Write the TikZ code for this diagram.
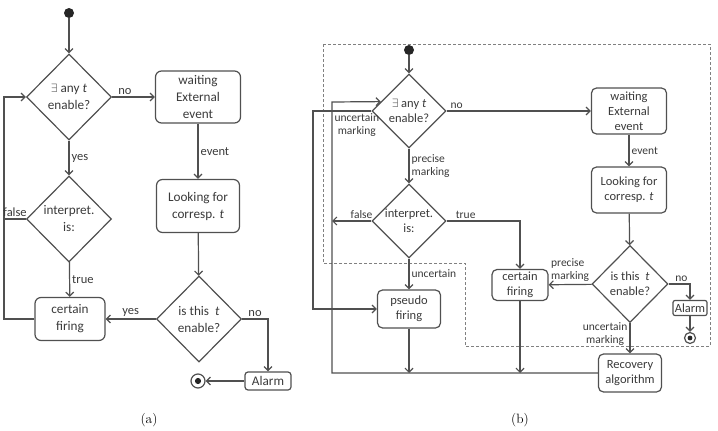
\documentclass[tikz,border=0pt]{standalone}
\usepackage{fontspec}
\setsansfont{Carlito}
\usetikzlibrary{shapes.geometric,arrows.meta,calc}
\definecolor{linecol}{HTML}{505050}
\definecolor{textcol}{HTML}{3A3A3A}
\definecolor{framecol}{HTML}{808080}
\tikzset{
  flow/.style={draw=linecol, line width=1.2pt},
  arr/.style={flow, -{Straight Barb[length=4pt,width=8pt]}},
  fa/.style={font=\sffamily\fontsize{13.2}{17}\selectfont, text=textcol},
  fb/.style={font=\sffamily\fontsize{12.5}{15}\selectfont, text=textcol},
  lbla/.style={font=\sffamily\fontsize{12.5}{15}\selectfont, text=textcol, inner sep=2pt},
  lblb/.style={font=\sffamily\fontsize{11.5}{13}\selectfont, text=textcol, inner sep=2pt},
  boxa/.style={flow, fa, rounded corners=6pt, align=center, inner sep=1pt},
  boxb/.style={flow, fb, rounded corners=5pt, align=center, inner sep=1pt},
  deca/.style={flow, fa, diamond, align=center, inner sep=-6pt, minimum width=85pt, minimum height=86pt},
  decb/.style={flow, fb, diamond, align=center, inner sep=-6pt, minimum width=74pt, minimum height=74pt},
  startdot/.style={circle, fill=black!85, inner sep=0pt, minimum size=#1},
  enddot/.style={circle, flow, inner sep=0pt, minimum size=#1,
    path picture={\fill[black!85] (path picture bounding box.center) circle (0.22*#1);}},
  frame/.style={draw=framecol, line width=1pt, dash pattern=on 3pt off 2pt},
  capt/.style={font=\fontsize{13.5}{15}\selectfont}
}
\begin{document}
\begin{tikzpicture}[x=1pt, y=-1pt]
    \useasboundingbox (0,0) rectangle (718,431);
    % (a) nodes
    \node[startdot=10pt] (a0) at (69,13) {};
    \node[deca] (ad1) at (69,97) {$\exists$ any \textit{t}\\enable?};
    \node[deca] (ad2) at (69,219) {interpret.\\is:};
    \node[boxa, minimum width=70pt, minimum height=43pt] (ac) at (70,319) {certain\\firing};
    \node[boxa, minimum width=85pt, minimum height=52pt] (aw) at (198,97) {waiting\\External\\event};
    \node[boxa, minimum width=83pt, minimum height=53pt] (al) at (198,206) {Looking for\\corresp. \textit{t}};
    \node[deca] (ad3) at (199,319) {is this \ \textit{t}\\enable?};
    \node[boxa, rounded corners=3pt, minimum width=46pt, minimum height=18pt, inner sep=0pt] (aa) at (268,381) {Alarm};
    \node[enddot=14pt] (ae) at (198,381) {};
    \coordinate (aloop) at (4,97);
    % (a) connectors
    \draw[arr] (a0) -- (ad1);
    \draw[arr] (ad1) -- node[lbla, above, pos=0.3] {no} (aw);
    \draw[arr] (aw) -- node[lbla, right] {event} (al);
    \draw[arr] (al) -- (ad3);
    \draw[arr] (ad3) -- node[lbla, above] {yes} (ac);
    \draw[arr] (ad3.east) -| node[lbla, above, pos=0.25] {no} (aa);
    \draw[arr] (aa) -- (ae);
    \draw[arr] (ad1) -- node[lbla, right] {yes} (ad2);
    \draw[arr] (ad2) -- node[lbla, right] {true} (ac);
    \draw[arr] (ac.west) -| (aloop) -- (ad1.west);
    \draw[flow] (ad2.west) -- node[lbla, above] {false} (ad2.west -| aloop);
    \node[capt] (capa) at (149,420) {(a)};
    % (b) frame
    \draw[frame] (323,44) -- (710,44) -- (710,346) -- (465,346) -- (465,263) -- (323,263) -- cycle;
    % (b) nodes
    \node[startdot=10pt] (b0) at (409,50) {};
    \node[decb] (bd1) at (409,111) {$\exists$ any \textit{t}\\enable?};
    \node[decb] (bd2) at (409,221) {interpret.\\is:};
    \node[boxb, minimum width=63pt, minimum height=38pt] (bp) at (409,309) {pseudo\\firing};
    \node[boxb, minimum width=56pt, minimum height=31pt] (bc) at (520,285) {certain\\firing};
    \node[boxb, minimum width=75pt, minimum height=46pt] (bw) at (629,111) {waiting\\External\\event};
    \node[boxb, minimum width=75pt, minimum height=46pt] (bl) at (629,190) {Looking for\\corresp. \textit{t}};
    \node[decb, minimum width=76pt, minimum height=77pt] (bd3) at (630,284) {is this \ \textit{t}\\enable?};
    \node[boxb, minimum width=63pt, minimum height=38pt] (br) at (630,373) {Recovery\\algorithm};
    \node[boxb, rounded corners=2pt, minimum width=34pt, minimum height=15pt, inner sep=0pt] (ba) at (690,308) {Alarm};
    \node[enddot=11pt] (be) at (690,338) {};
    \coordinate (bout) at (313,111);
    \coordinate (bloop) at (332,373);
    % (b) connectors
    \draw[arr] (b0) -- (bd1);
    \draw[arr] (bd1) -- node[lblb, above, pos=0.07] {no} (bw);
    \draw[arr] (bw) -- node[lblb, right] {event} (bl);
    \draw[arr] (bl) -- (bd3);
    \draw[arr] (bd3) -- node[lblb, pos=0, anchor=south east, align=left] {precise\\marking} (bc);
    \draw[arr] (bd3.east) -| node[lblb, above, pos=0.3] {no} (ba);
    \draw[arr] (ba) -- (be);
    \draw[arr] (bd3) -- node[lblb, left, align=center, pos=0.35] {uncertain\\marking} (br);
    \draw[arr] (bd1) -- node[lblb, right, align=left] {precise\\marking} (bd2);
    \draw[arr] (bd2.west) -- node[lblb, above, pos=0.25] {false} (bd2.west -| bloop);
    \draw[arr] (bd2.east) -| node[lblb, above, pos=0.13] {true} (bc);
    \draw[arr] (bd2) -- node[lblb, right] {uncertain} (bp);
    \draw[arr] (bp) -- (bp.south |- bloop);
    \draw[arr] (bc) -- (bc.south |- bloop);
    \draw[arr] (br.west) -| (bloop |- 0,102) -- ($(bd1.west)!0.25!(bd1.north)$);
    \draw[arr] (bd1.west) -- node[lblb, below, align=center, pos=0.25] {uncertain\\marking} (bout) |- (bp.west);
    \node[capt] (capb) at (520,420) {(b)};
\end{tikzpicture}
\end{document}
